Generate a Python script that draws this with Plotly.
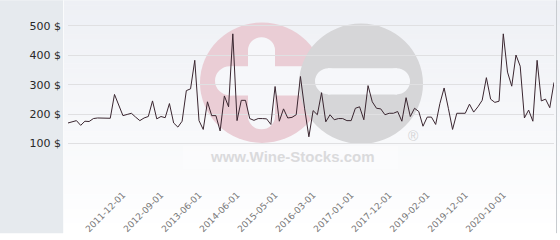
import plotly.graph_objects as go

dates = [
    "2010-11-01", "2010-12-01", "2011-01-01", "2011-02-01", "2011-03-01", "2011-04-01", "2011-05-01",
    "2011-06-01", "2011-07-01", "2011-08-01", "2011-09-01", "2011-10-01", "2011-11-01", "2011-12-01",
    "2012-01-01", "2012-02-01", "2012-03-01", "2012-04-01", "2012-05-01", "2012-06-01", "2012-07-01",
    "2012-08-01", "2012-09-01",
    "2012-10-01", "2012-11-01", "2012-12-01", "2013-01-01", "2013-02-01", "2013-03-01", "2013-04-01",
    "2013-05-01", "2013-06-01",
    "2013-07-01", "2013-08-01", "2013-10-01", "2013-12-01", "2014-01-01", "2014-02-01", "2014-04-01",
    "2014-05-01", "2014-06-01",
    "2014-07-01", "2014-08-01", "2014-09-01", "2014-11-01", "2014-12-01", "2015-01-01", "2015-02-01",
    "2015-04-01", "2015-05-01",
    "2015-06-01", "2015-07-01", "2015-08-01", "2015-09-01", "2015-10-01", "2015-12-01", "2016-01-01",
    "2016-02-01", "2016-03-01",
    "2016-04-01", "2016-05-01", "2016-06-01", "2016-07-01", "2016-09-01", "2016-10-01", "2016-11-01",
    "2016-12-01", "2017-01-01",
    "2017-02-01", "2017-03-01", "2017-04-01", "2017-06-01", "2017-07-01", "2017-08-01", "2017-09-01",
    "2017-11-01", "2017-12-01",
    "2018-01-01", "2018-03-01", "2018-05-01", "2018-06-01", "2018-08-01", "2018-10-01", "2018-11-01",
    "2019-01-01", "2019-02-01",
    "2019-03-01", "2019-04-01", "2019-05-01", "2019-06-01", "2019-07-01", "2019-09-01", "2019-10-01",
    "2019-11-01", "2019-12-01",
    "2020-01-01", "2020-02-01", "2020-03-01", "2020-05-01", "2020-06-01", "2020-07-01", "2020-08-01",
    "2020-09-01", "2020-10-01",
    "2020-11-01", "2020-12-01", "2021-01-01", "2021-02-01", "2021-03-01", "2021-04-01", "2021-05-01",
    "2021-06-01", "2021-07-01", "2021-08-01", "2021-09-01", "2021-10-01",
]

prices = [
    170, 175, 178, 162, 176, 175, 185, 187, 187, 186, 186, 267, 231, 195, 199, 203, 190, 178, 187, 192,
    245, 184, 192, 188, 236, 170, 156, 176, 280, 286, 383, 178, 148, 242, 195, 195, 143, 262, 225, 473,
    178, 247, 247, 185, 179, 185, 185, 184, 165, 294, 176, 218, 187, 189, 198, 328, 218, 123, 212, 198,
    273, 174, 198, 181, 185, 185, 178, 178, 220, 225, 181, 297, 242, 220, 218, 198, 203, 203, 209, 176,
    256, 192, 220, 209, 159, 190, 190, 165, 236, 289, 220, 148, 203, 203, 203, 234, 207, 225, 247, 324,
    251, 240, 244, 473, 343, 295, 401, 363, 187, 214, 176, 383, 245, 251, 222, 308,
]

tick_dates = ["2011-12-01", "2012-09-01", "2013-06-01", "2014-06-01", "2015-05-01", "2016-03-01",
              "2017-01-01", "2017-12-01", "2019-02-01", "2019-12-01", "2020-10-01"]

y_tick_values = [0, 100, 200, 300, 400, 500]
y_tick_labels = ["", "100 $", "200 $", "300 $", "400 $", "500 $"]

W, H = 560, 240
ML, MR, MT, MB = 68, 6, 10, 62
PW, PH = W - ML - MR, H - MT - MB


def px(x):
    return (x - ML) / PW


def py(y):
    return (H - MB - y) / PH


shapes = []
# background gradient (right area)
n = 48
for k in range(n):
    t = k / (n - 1)
    c = [int(round(a + (255 - a) * t)) for a in (238, 240, 245)]
    shapes.append(dict(type="rect", xref="paper", yref="paper", layer="below",
                       x0=px(63), x1=px(W), y0=py(k * H / n), y1=py((k + 1) * H / n + 0.5),
                       fillcolor=f"rgb({c[0]},{c[1]},{c[2]})", line=dict(width=0)))
# left panel
shapes.append(dict(type="rect", xref="paper", yref="paper", layer="below",
                   x0=px(0), x1=px(63), y0=py(0), y1=py(H),
                   fillcolor="rgb(230,234,238)", line=dict(width=0)))
shapes.append(dict(type="line", xref="paper", yref="paper", layer="below",
                   x0=px(63.5), x1=px(63.5), y0=py(0), y1=py(H),
                   line=dict(color="rgb(250,251,252)", width=1)))
# right border
shapes.append(dict(type="line", xref="paper", yref="paper", layer="below",
                   x0=px(556.5), x1=px(556.5), y0=py(0), y1=py(H),
                   line=dict(color="rgb(200,204,208)", width=1)))


def circ(cx, cy, r, color):
    shapes.append(dict(type="circle", xref="paper", yref="paper", layer="below",
                       x0=px(cx - r), x1=px(cx + r), y0=py(cy + r), y1=py(cy - r),
                       fillcolor=color, line=dict(width=0)))


def rect(x0, y0, x1, y1, color):
    shapes.append(dict(type="rect", xref="paper", yref="paper", layer="below",
                       x0=px(x0), x1=px(x1), y0=py(y1), y1=py(y0),
                       fillcolor=color, line=dict(width=0)))


PINK = "rgb(234,205,213)"
GREY = "rgb(214,214,216)"
HOLE = "rgb(246,247,250)"
# watermark: pink circle with plus
circ(262, 85, 62, PINK)
rect(248, 51, 275, 120, HOLE)
circ(261.5, 51.5, 13.5, HOLE)
circ(261.5, 119.5, 13.5, HOLE)
rect(230, 68, 310, 98, HOLE)
circ(230, 83, 15, HOLE)
# grey circle with minus
circ(361, 86, 62, GREY)
rect(328, 70, 397, 97, HOLE)
circ(328.5, 83.5, 13.5, HOLE)
circ(396.5, 83.5, 13.5, HOLE)
# faint box behind watermark text
rect(183, 150, 398, 174, "rgba(255,255,255,0.3)")

annotations = [
    dict(text="<b>www.Wine-Stocks.com</b>", xref="paper", yref="paper", x=px(292), y=py(161),
         showarrow=False, font=dict(family="Liberation Sans, Arial", size=15, color="rgb(218,218,220)"),
         xanchor="center", yanchor="middle"),
    dict(text="®", xref="paper", yref="paper", x=px(413), y=py(140),
         showarrow=False, font=dict(family="Liberation Sans, Arial", size=14, color="rgb(212,212,214)"),
         xanchor="center", yanchor="middle"),
]

fig = go.Figure()
fig.add_trace(go.Scatter(x=dates, y=prices, mode="lines",
                         line=dict(color="rgb(58,38,48)", width=1), hoverinfo="skip"))

fig.update_layout(
    width=W, height=H,
    margin=dict(l=ML, r=MR, t=MT, b=MB),
    paper_bgcolor="white",
    plot_bgcolor="rgba(0,0,0,0)",
    showlegend=False,
    shapes=shapes,
    annotations=annotations,
    xaxis=dict(type="category", range=[0, len(dates) - 1], showgrid=False, zeroline=False,
               showline=False, tickmode="array", tickvals=tick_dates, ticktext=tick_dates,
               tickangle=-45, ticks="", ticklabelstandoff=14,
               tickfont=dict(family="DejaVu Sans", size=9, color="rgb(120,120,120)")),
    yaxis=dict(range=[0, 554], showgrid=True, gridcolor="rgb(224,224,226)", gridwidth=1,
               zeroline=False, showline=False, tickmode="array", tickvals=y_tick_values,
               ticktext=y_tick_labels, ticks="", ticklabelstandoff=6,
               tickfont=dict(family="DejaVu Sans", size=11, color="rgb(40,40,40)")),
)

fig.write_html("out.html")
